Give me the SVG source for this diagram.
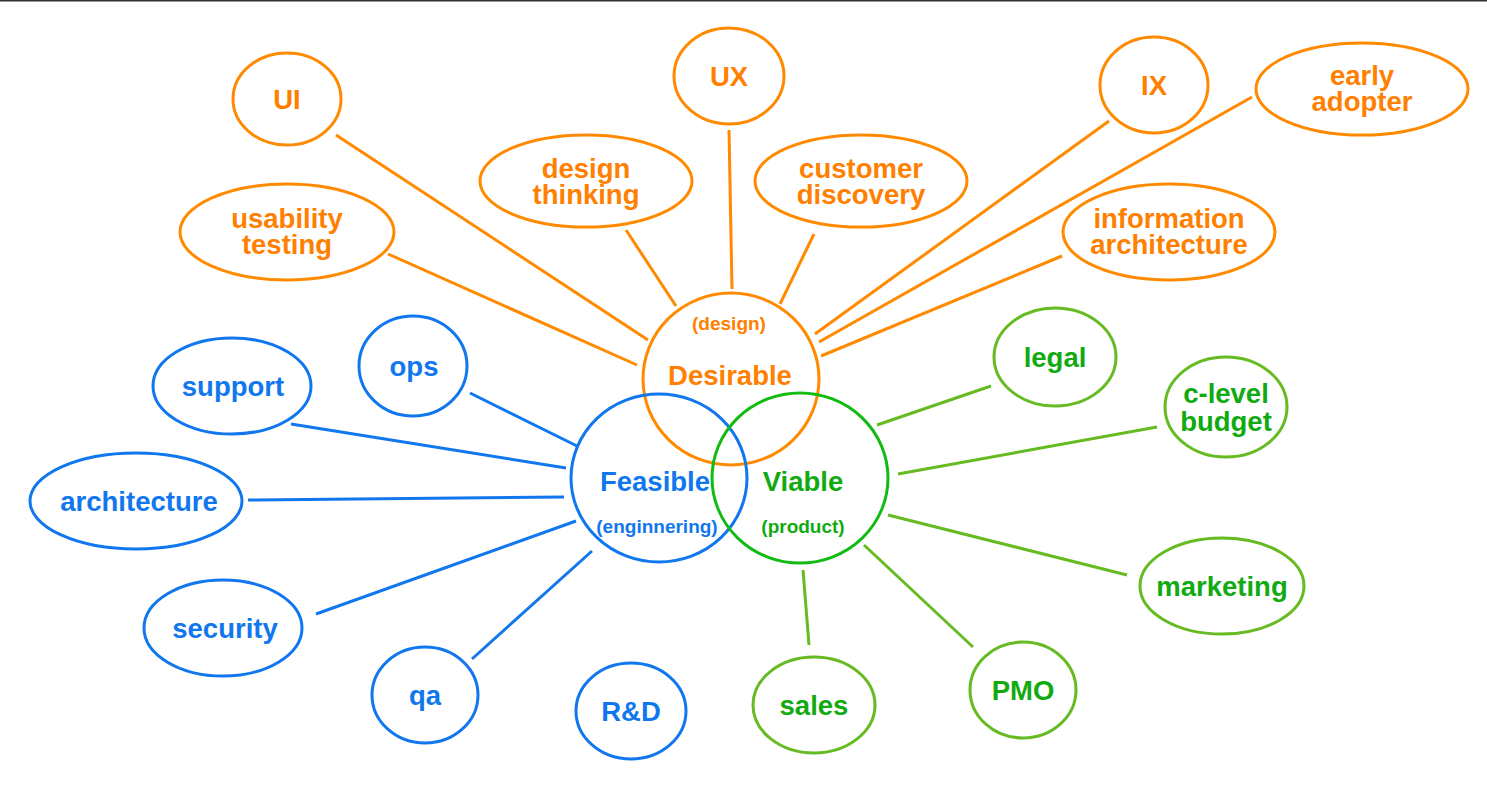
<svg xmlns="http://www.w3.org/2000/svg" width="1487" height="805" viewBox="0 0 1487 805">
<style>
text{font-family:"Liberation Sans",Arial,Helvetica,sans-serif;font-weight:bold;text-anchor:middle}
.o ellipse{fill:none;stroke:#FF8A00;stroke-width:3}
.o text{fill:#FF8000;font-size:27.5px}
.b ellipse{fill:none;stroke:#1177EE;stroke-width:3}
.b text{fill:#1177EE;font-size:27.5px}
.g ellipse{fill:none;stroke:#66BB22;stroke-width:3}
.g text{fill:#11AA11;font-size:27.5px}
.o text.s,.b text.s,.g text.s{font-size:19px}
.lo{stroke:#FF8A00;stroke-width:3}
.lb{stroke:#1177EE;stroke-width:3}
.lg{stroke:#66BB22;stroke-width:3}
</style>
<rect x="0" y="0" width="1487" height="805" fill="#fff"/>
<line x1="0" y1="0.5" x2="1487" y2="0.5" stroke="#333" stroke-width="2"/>
<g id="connectors">
<line class="lo" x1="336" y1="135" x2="648" y2="340"/>
<line class="lo" x1="388" y1="254" x2="637" y2="365"/>
<line class="lo" x1="626" y1="230" x2="676" y2="306"/>
<line class="lo" x1="729" y1="130" x2="732" y2="289"/>
<line class="lo" x1="814" y1="234" x2="780" y2="304"/>
<line class="lo" x1="1109" y1="121" x2="815" y2="334"/>
<line class="lo" x1="1252" y1="97" x2="819" y2="342"/>
<line class="lo" x1="1062" y1="256" x2="821" y2="356"/>
<line class="lb" x1="470" y1="393" x2="577" y2="446"/>
<line class="lb" x1="291" y1="424" x2="566" y2="468"/>
<line class="lb" x1="248" y1="500" x2="564" y2="497"/>
<line class="lb" x1="316" y1="614" x2="576" y2="521"/>
<line class="lb" x1="472" y1="659" x2="592" y2="551"/>
<line class="lg" x1="877" y1="425" x2="991" y2="386"/>
<line class="lg" x1="898" y1="474" x2="1157" y2="427"/>
<line class="lg" x1="888" y1="515" x2="1127" y2="575"/>
<line class="lg" x1="864" y1="545" x2="973" y2="647"/>
<line class="lg" x1="803" y1="570" x2="809" y2="645"/>
</g>
<g id="desirable" class="o"><ellipse cx="731" cy="379" rx="88" ry="86"/><text class="s" x="729" y="330">(design)</text><text x="730" y="385">Desirable</text></g>
<g id="feasible" class="b"><ellipse cx="659" cy="478" rx="88" ry="84"/><text x="655" y="491">Feasible</text><text class="s" x="657" y="533">(enginnering)</text></g>
<g id="viable" class="g"><ellipse cx="800" cy="478" rx="88" ry="85" style="stroke:#11BB11"/><text x="803" y="491">Viable</text><text class="s" x="803" y="533">(product)</text></g>
<g id="ui" class="o"><ellipse cx="287" cy="99" rx="54" ry="46"/><text x="287" y="109">UI</text></g>
<g id="ux" class="o"><ellipse cx="729" cy="76" rx="55" ry="48"/><text x="729" y="86">UX</text></g>
<g id="ix" class="o"><ellipse cx="1154" cy="85" rx="54" ry="48"/><text x="1154" y="95">IX</text></g>
<g id="early-adopter" class="o"><ellipse cx="1362" cy="89" rx="106" ry="46"/><text x="1362" y="85">early</text><text x="1362" y="111">adopter</text></g>
<g id="design-thinking" class="o"><ellipse cx="586" cy="181" rx="106" ry="46"/><text x="586" y="178">design</text><text x="586" y="204">thinking</text></g>
<g id="customer-discovery" class="o"><ellipse cx="861" cy="181" rx="106" ry="46"/><text x="861" y="178">customer</text><text x="861" y="204">discovery</text></g>
<g id="usability-testing" class="o"><ellipse cx="287" cy="232" rx="107" ry="48"/><text x="287" y="228">usability</text><text x="287" y="254">testing</text></g>
<g id="information-architecture" class="o"><ellipse cx="1169" cy="232" rx="106" ry="48"/><text x="1169" y="228">information</text><text x="1169" y="254">architecture</text></g>
<g id="legal" class="g"><ellipse cx="1055" cy="357" rx="61" ry="49"/><text x="1055" y="367">legal</text></g>
<g id="c-level-budget" class="g"><ellipse cx="1226" cy="407" rx="61" ry="50"/><text x="1226" y="403">c-level</text><text x="1226" y="431">budget</text></g>
<g id="marketing" class="g"><ellipse cx="1222" cy="586" rx="82" ry="48"/><text x="1222" y="596">marketing</text></g>
<g id="pmo" class="g"><ellipse cx="1023" cy="690" rx="53" ry="48"/><text x="1023" y="700">PMO</text></g>
<g id="sales" class="g"><ellipse cx="814" cy="705" rx="61" ry="48"/><text x="814" y="715">sales</text></g>
<g id="rd" class="b"><ellipse cx="631" cy="711" rx="55" ry="48"/><text x="631" y="721">R&amp;D</text></g>
<g id="qa" class="b"><ellipse cx="425" cy="695" rx="53" ry="48"/><text x="425" y="705">qa</text></g>
<g id="security" class="b"><ellipse cx="223" cy="628" rx="79" ry="48"/><text x="225" y="638">security</text></g>
<g id="architecture" class="b"><ellipse cx="136" cy="501" rx="106" ry="48"/><text x="139" y="511">architecture</text></g>
<g id="support" class="b"><ellipse cx="232" cy="386" rx="79" ry="48"/><text x="233" y="396">support</text></g>
<g id="ops" class="b"><ellipse cx="413" cy="366" rx="54" ry="50"/><text x="414" y="376">ops</text></g>
</svg>
